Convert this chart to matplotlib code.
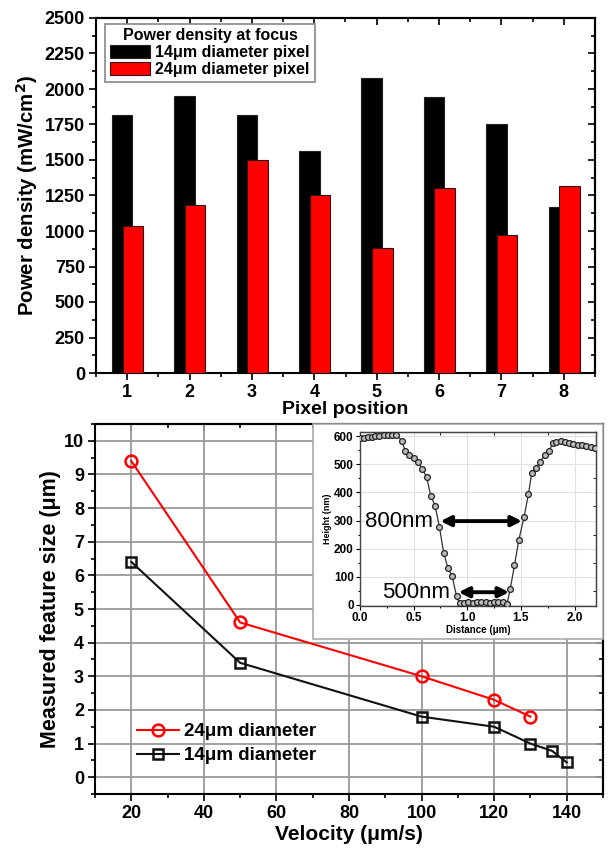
import matplotlib
matplotlib.use("Agg")
import matplotlib.pyplot as plt
from matplotlib.patches import Rectangle
from matplotlib.ticker import MultipleLocator

plt.rcParams['font.family'] = ['Liberation Sans', 'DejaVu Sans']
plt.rcParams['font.weight'] = 'bold'

# ---------------- data ----------------
pixels = [1, 2, 3, 4, 5, 6, 7, 8]
pd_14 = [1820, 1950, 1820, 1560, 2075, 1945, 1750, 1170]
pd_24 = [1035, 1185, 1500, 1255, 880, 1300, 970, 1320]

vel_24 = [20, 50, 100, 120, 130]
size_24 = [9.4, 4.6, 3.0, 2.3, 1.8]
vel_14 = [20, 50, 100, 120, 130, 136, 140]
size_14 = [6.4, 3.4, 1.8, 1.5, 1.0, 0.78, 0.44]

dist = [0.00, 0.04, 0.07, 0.11, 0.14, 0.18, 0.22, 0.26, 0.30, 0.34, 0.39, 0.42,
        0.46, 0.50, 0.54, 0.58, 0.62, 0.66, 0.70, 0.74, 0.78, 0.82, 0.86, 0.90,
        0.93, 0.97, 1.01, 1.05, 1.09, 1.13, 1.17, 1.21, 1.25, 1.29, 1.33, 1.37,
        1.40, 1.44, 1.48, 1.53, 1.57, 1.60, 1.64, 1.68, 1.72, 1.76, 1.80, 1.83,
        1.87, 1.91, 1.95, 1.99, 2.03, 2.07, 2.11, 2.15, 2.19]
height = [594, 594, 596, 598, 600, 601, 603, 604, 605, 605, 584, 548,
          534, 521, 507, 483, 456, 388, 352, 278, 185, 131, 101, 30,
          5, 8, 10, 7, 12, 9, 10, 8, 11, 9, 10, 2,
          55, 141, 230, 314, 393, 468, 488, 507, 534, 548, 575, 580,
          582, 578, 576, 573, 570, 567, 564, 561, 557]

W, H = 608, 848
fig = plt.figure(figsize=(W / 100, H / 100), dpi=100)


def rect(l, t, r, b):
    return [l / W, 1 - b / H, (r - l) / W, (b - t) / H]


def mirror(ax, xmaj, xmin, ymaj, ymin, length=5, mlength=3):
    sx = ax.secondary_xaxis('top')
    sx.xaxis.set_major_locator(MultipleLocator(xmaj))
    sx.xaxis.set_minor_locator(MultipleLocator(xmin))
    sx.tick_params(which='both', direction='in', labeltop=False, width=1.2)
    sx.tick_params(which='major', length=length)
    sx.tick_params(which='minor', length=mlength)
    sy = ax.secondary_yaxis('right')
    sy.yaxis.set_major_locator(MultipleLocator(ymaj))
    sy.yaxis.set_minor_locator(MultipleLocator(ymin))
    sy.tick_params(which='both', direction='in', labelright=False, width=1.2)
    sy.tick_params(which='major', length=length)
    sy.tick_params(which='minor', length=mlength)
    for s in (sx, sy):
        for sp in s.spines.values():
            sp.set_linewidth(1.5)


# ---------------- top bar chart ----------------
ax1 = fig.add_axes(rect(96, 18, 595, 373))
bw = 0.33
ax1.bar([p - 0.08 for p in pixels], pd_14, width=bw, color='black',
        edgecolor='#222222', linewidth=0.8, label='14μm diameter pixel', zorder=2)
ax1.bar([p + 0.09 for p in pixels], pd_24, width=bw, color='#ff0000',
        edgecolor='#331111', linewidth=0.8, label='24μm diameter pixel', zorder=3)
ax1.set_xlim(0.5, 8.5)
ax1.set_ylim(0, 2500)
ax1.xaxis.set_major_locator(MultipleLocator(1))
ax1.xaxis.set_minor_locator(MultipleLocator(0.5))
ax1.yaxis.set_major_locator(MultipleLocator(250))
ax1.yaxis.set_minor_locator(MultipleLocator(125))
ax1.tick_params(which='both', direction='out', width=1.2, labelsize=13, pad=3)
ax1.tick_params(which='major', length=5)
ax1.tick_params(which='minor', length=3)
for sp in ax1.spines.values():
    sp.set_linewidth(1.5)
mirror(ax1, 1, 0.5, 250, 125)
ax1.set_xlabel('Pixel position', fontsize=14, fontweight='bold', labelpad=0)
ax1.set_ylabel('Power density (mW/cm$^\\mathbf{2}$)', fontsize=14.7,
               fontweight='bold', labelpad=3)
leg1 = ax1.legend(title='Power density at focus', loc='upper left',
                  bbox_to_anchor=(0.012, 0.993), fontsize=11.5,
                  title_fontproperties={'weight': 'bold', 'size': 11.5},
                  handlelength=2.5, handleheight=0.85, handletextpad=0.35,
                  labelspacing=0.12, borderpad=0.3, borderaxespad=0.2,
                  fancybox=False, edgecolor='#888888', framealpha=1)
leg1.get_frame().set_linewidth(1.2)

# ---------------- bottom line chart ----------------
ax2 = fig.add_axes(rect(95, 424, 603, 794))
ax2.plot(vel_24, size_24, color='#ff0000', lw=1.5, marker='o', ms=8.5,
         mfc='none', mec='#ff0000', mew=1.8, label='24μm diameter', zorder=3)
ax2.plot(vel_14, size_14, color='#111111', lw=1.5, marker='s', ms=7,
         mfc='none', mec='#111111', mew=1.8, label='14μm diameter', zorder=3)
ax2.set_xlim(10, 150)
ax2.set_ylim(-0.5, 10.5)
ax2.set_xticks([20, 40, 60, 80, 100, 120, 140])
ax2.xaxis.set_minor_locator(MultipleLocator(10))
ax2.set_yticks(list(range(0, 11)))
ax2.yaxis.set_minor_locator(MultipleLocator(0.5))
ax2.grid(True, which='major', color='#9a9a9a', lw=1.3, zorder=0)
ax2.tick_params(which='both', direction='out', width=1.2, labelsize=13, pad=3)
ax2.tick_params(which='major', length=5)
ax2.tick_params(which='minor', length=3)
for sp in ax2.spines.values():
    sp.set_linewidth(1.5)
mirror(ax2, 20, 10, 1, 0.5)
ax2.set_xlabel('Velocity (μm/s)', fontsize=15, fontweight='bold', labelpad=2)
ax2.set_ylabel('Measured feature size (μm)', fontsize=15.5, fontweight='bold',
               labelpad=2)
ax2.legend(loc='lower left', bbox_to_anchor=(0.05, 0.035), frameon=False,
           fontsize=13.5, handlelength=2.2, handletextpad=0.3,
           labelspacing=0.35)

# frame around inset
frame = Rectangle((313 / W, 1 - 639 / H), 290 / W, 215 / H,
                  transform=fig.transFigure, facecolor='white',
                  edgecolor='#aaaaaa', lw=1.2, zorder=10, clip_on=False)
ax2.add_artist(frame)

# ---------------- inset ----------------
ax3 = fig.add_axes(rect(360, 432, 596, 606))
ax3.plot(dist, height, color='#333333', lw=0.9, marker='o', ms=4.2,
         mfc='#bbbbbb', mec='#222222', mew=0.9, zorder=3)
ax3.set_xlim(0, 2.2)
ax3.set_ylim(-4, 615)
ax3.xaxis.set_major_locator(MultipleLocator(0.5))
ax3.xaxis.set_minor_locator(MultipleLocator(0.25))
ax3.yaxis.set_major_locator(MultipleLocator(100))
ax3.yaxis.set_minor_locator(MultipleLocator(50))
ax3.grid(True, which='major', color='#e2e2e2', lw=0.8, zorder=0)
ax3.tick_params(which='both', direction='out', width=0.8, labelsize=8.5, pad=1.5)
ax3.tick_params(which='major', length=3)
ax3.tick_params(which='minor', length=1.5)
for sp in ax3.spines.values():
    sp.set_linewidth(1.0)
    sp.set_color('#444444')
sx3 = ax3.secondary_xaxis('top')
sx3.xaxis.set_major_locator(MultipleLocator(0.5))
sx3.xaxis.set_minor_locator(MultipleLocator(0.25))
sx3.tick_params(which='both', direction='in', labeltop=False, width=0.6, length=2)
sy3 = ax3.secondary_yaxis('right')
sy3.yaxis.set_major_locator(MultipleLocator(100))
sy3.yaxis.set_minor_locator(MultipleLocator(50))
sy3.tick_params(which='both', direction='in', labelright=False, width=0.6, length=2)
ax3.set_xlabel('Distance (μm)', fontsize=7, fontweight='bold', labelpad=0.5)
ax3.set_ylabel('Height (nm)', fontsize=6.5, fontweight='bold', labelpad=1)

ax3.annotate('', xy=(0.75, 298), xytext=(1.51, 298),
             arrowprops=dict(arrowstyle='<|-|>', color='black', lw=2.8,
                             mutation_scale=15, shrinkA=0, shrinkB=0), zorder=4)
ax3.annotate('', xy=(0.92, 45), xytext=(1.39, 45),
             arrowprops=dict(arrowstyle='<|-|>', color='black', lw=2.8,
                             mutation_scale=15, shrinkA=0, shrinkB=0), zorder=4)
ax3.text(0.36, 298, '800nm', fontsize=16, fontweight='normal',
         ha='center', va='center', zorder=5)
ax3.text(0.52, 45, '500nm', fontsize=16, fontweight='normal',
         ha='center', va='center', zorder=5)

fig.savefig('out.png', dpi=100)
